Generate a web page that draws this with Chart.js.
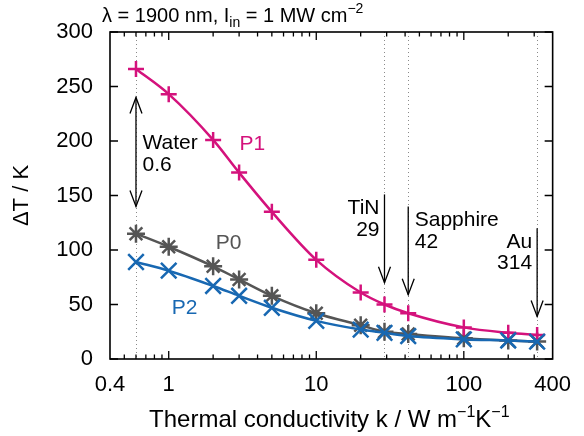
<!DOCTYPE html>
<html><head><meta charset="utf-8">
<script src="https://cdn.jsdelivr.net/npm/chart.js@4"></script>
<style>html,body{margin:0;padding:0;background:#fff}</style>
</head><body>
<canvas id="c" width="584" height="436"></canvas>
<script>
// ---- data ----
const conductivity = [0.6, 1, 2, 3, 5, 10, 20, 29, 42, 100, 200, 314];
const deltaT_P1 = [266, 243, 201, 171, 135, 91, 61, 50, 42, 29, 24, 22];
const deltaT_P0 = [115, 103, 85, 73, 58, 42, 31, 25, 23, 19, 17, 16];
const deltaT_P2 = [89, 81, 67, 58, 47, 35, 27, 24, 21, 18, 17, 16];
const xTickValues = [0.4, 1, 10, 100, 400];
const xMajorMarks = [1, 10, 100];
const xMinorMarks = [0.5, 0.6, 0.7, 0.8, 0.9, 2, 3, 4, 5, 6, 7, 8, 9, 20, 30, 40, 50, 60, 70, 80, 90, 200, 300];
const yTickValues = [0, 50, 100, 150, 200, 250, 300];
// materials: name, value, conductivity, arrow start/end (ΔT units)
const materialNames = ['Water', 'TiN', 'Sapphire', 'Au'];
const materialLabels = ['0.6', '29', '42', '314'];
const materialK = [0.6, 29, 42, 314];
const arrowFrom = [240, 151, 140, 120];
const arrowTo = [140, 70, 59, 39];
const labelBaseline = [192.4, 132.6, 121.9, 102];
const seriesNames = ['P1', 'P0', 'P2'];
const seriesLabelK = [3.69, 2.55, 1.28];
const seriesLabelT = [191.5, 101, 41.3];

const C_P1 = '#d4127c', C_P0 = '#555555', C_P2 = '#1868b2';
const FONT = '"Liberation Sans", Arial, Helvetica, sans-serif';

function drawRich(ctx, parts, x, y, align) {
  let w = 0;
  parts.forEach(p => { ctx.font = p.s + 'px ' + FONT; p.w = ctx.measureText(p.t).width; w += p.w; });
  let cx = align === 'center' ? x - w / 2 : (align === 'right' ? x - w : x);
  ctx.textAlign = 'left'; ctx.textBaseline = 'alphabetic';
  parts.forEach(p => { ctx.font = p.s + 'px ' + FONT; ctx.fillText(p.t, cx, y + (p.dy || 0)); cx += p.w; });
}

function arrowHead(ctx, x, tipY, dir) { // dir = +1 pointing down, -1 pointing up
  ctx.beginPath();
  ctx.moveTo(x - 6, tipY - dir * 16);
  ctx.lineTo(x, tipY);
  ctx.lineTo(x + 6, tipY - dir * 16);
  ctx.stroke();
}

const decor = {
  id: 'decor',
  beforeDatasetsDraw(chart) {
    const {ctx, chartArea: a, scales: {x}} = chart;
    ctx.save();
    ctx.strokeStyle = '#8a8a8a'; ctx.lineWidth = 1; ctx.setLineDash([1, 3]);
    materialK.forEach(k => {
      const px = Math.round(x.getPixelForValue(k)) + 0.5;
      ctx.beginPath(); ctx.moveTo(px, a.top); ctx.lineTo(px, a.bottom); ctx.stroke();
    });
    ctx.restore();
  },
  afterDraw(chart) {
    const {ctx, chartArea: a, scales: {x, y}} = chart;
    ctx.save();
    // frame
    ctx.strokeStyle = '#000'; ctx.lineWidth = 1.6; ctx.setLineDash([]);
    ctx.strokeRect(a.left, a.top, a.right - a.left, a.bottom - a.top);
    // ticks (inward)
    ctx.lineWidth = 1.3;
    ctx.beginPath();
    xMajorMarks.forEach(v => {
      const px = x.getPixelForValue(v);
      ctx.moveTo(px, a.bottom); ctx.lineTo(px, a.bottom - 8);
      ctx.moveTo(px, a.top); ctx.lineTo(px, a.top + 8);
    });
    xMinorMarks.forEach(v => {
      const px = x.getPixelForValue(v);
      ctx.moveTo(px, a.bottom); ctx.lineTo(px, a.bottom - 4.5);
      ctx.moveTo(px, a.top); ctx.lineTo(px, a.top + 4.5);
    });
    yTickValues.forEach(v => {
      const py = y.getPixelForValue(v);
      ctx.moveTo(a.left, py); ctx.lineTo(a.left + 8, py);
      ctx.moveTo(a.right, py); ctx.lineTo(a.right - 8, py);
    });
    ctx.stroke();
    // arrows
    ctx.lineWidth = 1.3; ctx.strokeStyle = '#000';
    materialK.forEach((k, i) => {
      const px = x.getPixelForValue(k);
      const y1 = y.getPixelForValue(arrowFrom[i]), y2 = y.getPixelForValue(arrowTo[i]);
      ctx.beginPath(); ctx.moveTo(px, y1); ctx.lineTo(px, y2); ctx.stroke();
      arrowHead(ctx, px, y2, 1);
      if (i === 0) arrowHead(ctx, px, y1, -1);
    });
    // material labels
    ctx.fillStyle = '#000';
    ctx.font = '21px ' + FONT; ctx.textBaseline = 'alphabetic';
    materialK.forEach((k, i) => {
      const px = x.getPixelForValue(k);
      const by = y.getPixelForValue(labelBaseline[i]);
      const right = (i === 1 || i === 3);
      ctx.textAlign = right ? 'right' : 'left';
      const tx = right ? px - 5 : px + 6.5;
      ctx.fillText(materialNames[i], tx, by);
      ctx.fillText(materialLabels[i], tx, by + 21.5);
    });
    // series labels
    const cols = [C_P1, C_P0, C_P2];
    ctx.textAlign = 'center';
    ctx.font = '21px ' + FONT;
    seriesNames.forEach((n, i) => {
      ctx.fillStyle = cols[i];
      ctx.fillText(n, x.getPixelForValue(seriesLabelK[i]), y.getPixelForValue(seriesLabelT[i]));
    });
    // title
    ctx.fillStyle = '#000';
    drawRich(ctx, [{t: 'λ = 1900 nm, I', s: 20}, {t: 'in', s: 14, dy: 5}, {t: ' = 1 MW cm', s: 20}, {t: '−2', s: 14, dy: -9}], a.left - 8, 22, 'left');
    // x axis title
    drawRich(ctx, [{t: 'Thermal conductivity k / W m', s: 24}, {t: '−1', s: 16, dy: -10}, {t: 'K', s: 24}, {t: '−1', s: 16, dy: -10}], (a.left + a.right) / 2 - 2, 427, 'center');
    ctx.restore();
  }
};

const pts = arr => conductivity.map((k, i) => ({x: k, y: arr[i]}));

new Chart(document.getElementById('c'), {
  type: 'line',
  data: {
    datasets: [
      {label: 'P1', data: pts(deltaT_P1), borderColor: C_P1, backgroundColor: C_P1, pointStyle: 'cross', pointRadius: 8, pointBorderWidth: 2.5, borderWidth: 2.5, cubicInterpolationMode: 'monotone', order: 1},
      {label: 'P0', data: pts(deltaT_P0), borderColor: C_P0, backgroundColor: C_P0, pointStyle: 'star', pointRadius: 9, pointBorderWidth: 2.5, borderWidth: 2.5, cubicInterpolationMode: 'monotone', order: 2},
      {label: 'P2', data: pts(deltaT_P2), borderColor: C_P2, backgroundColor: C_P2, pointStyle: 'crossRot', pointRadius: 11, pointBorderWidth: 2.5, borderWidth: 2.5, cubicInterpolationMode: 'monotone', order: 0}
    ]
  },
  options: {
    responsive: false, animation: false, devicePixelRatio: 1,
    layout: {padding: {left: 0, right: 25, top: 32, bottom: 0}},
    plugins: {legend: {display: false}, title: {display: false}, tooltip: {enabled: false}},
    scales: {
      x: {
        type: 'logarithmic', min: 0.4, max: 400,
        grid: {display: false, drawTicks: false}, border: {display: false},
        afterBuildTicks: s => { s.ticks = xTickValues.map(v => ({value: v})); },
        afterFit: s => { s.height = 77; },
        ticks: {autoSkip: false, maxRotation: 0, padding: 13, color: '#000', font: {family: FONT, size: 22}, callback: v => String(v)}
      },
      y: {
        min: 0, max: 300,
        grid: {display: false, drawTicks: false}, border: {display: false},
        afterFit: s => { s.width = 110; },
        ticks: {stepSize: 50, padding: 17, color: '#000', font: {family: FONT, size: 22}},
        title: {display: true, text: 'ΔT / K', color: '#000', font: {family: FONT, size: 22}, padding: {top: 9, bottom: 0}}
      }
    }
  },
  plugins: [decor]
});
</script>
</body></html>
